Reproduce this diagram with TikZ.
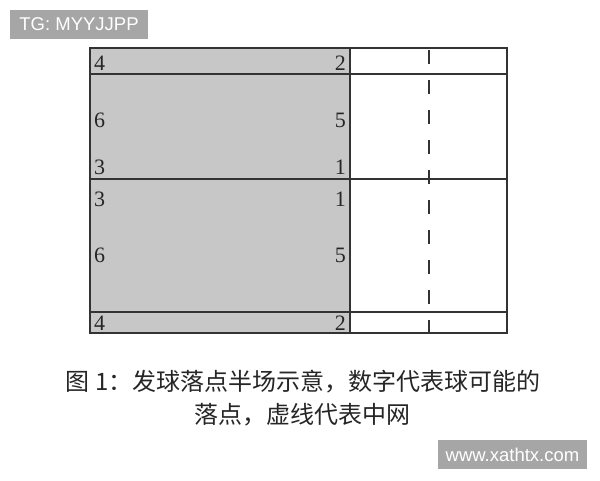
\documentclass[tikz,border=0pt]{standalone}
\usepackage{fontspec}
\setmainfont{Liberation Serif}
\newfontfamily\cjk{Noto Sans CJK SC}
\newfontfamily\lsans{Liberation Sans}
\begin{document}
\begin{tikzpicture}[x=1pt,y=-1pt,
  courtline/.style={draw=black!80,line width=1.6pt},
  num/.style={font=\fontsize{22}{22}\selectfont,text=black!85,inner sep=0pt},
  captext/.style={font=\cjk\fontsize{24}{24}\selectfont,text=black!85,inner sep=0pt},
  tag/.style={fill=black!35,text=white,font=\lsans\fontsize{18.5}{18.5}\selectfont,inner sep=0pt,minimum height=29pt}]
\useasboundingbox (0,0) rectangle (600,480);
\fill[white] (0,0) rectangle (600,480);
% court
\coordinate (tl) at (90,48);
\coordinate (br) at (507,333);
\fill[black!22] (90,48) rectangle (350,333);
\draw[courtline] (tl) rectangle (br);
\draw[courtline] (90,74) -- (507,74);
\draw[courtline] (90,179) -- (507,179);
\draw[courtline] (90,312) -- (507,312);
\draw[courtline] (350,48) -- (350,333);
\draw[draw=black!80,line width=1.8pt,dash pattern=on 14pt off 16pt,dash phase=-2pt] (429,48) -- (429,333);
% numbers
\node[num,anchor=west] (a4) at (94,63) {4};
\node[num,anchor=east] (a2) at (346,63) {2};
\node[num,anchor=west] (a6) at (94,120) {6};
\node[num,anchor=east] (a5) at (346,120) {5};
\node[num,anchor=west] (a3) at (94,167) {3};
\node[num,anchor=east] (a1) at (346,167) {1};
\node[num,anchor=west] (b3) at (94,199) {3};
\node[num,anchor=east] (b1) at (346,199) {1};
\node[num,anchor=west] (b6) at (94,255) {6};
\node[num,anchor=east] (b5) at (346,255) {5};
\node[num,anchor=west] (b4) at (94,323) {4};
\node[num,anchor=east] (b2) at (346,323) {2};
% caption
\node[captext] (cap1) at (303,382) {图 1：发球落点半场示意，数字代表球可能的};
\node[captext] (cap2) at (302,415) {落点，虚线代表中网};
% tags
\node[tag,minimum width=138pt] (tg) at (79,24.5) {TG: MYYJJPP};
\node[tag,minimum width=149pt] (www) at (512.5,454.5) {www.xathtx.com};
\end{tikzpicture}
\end{document}
